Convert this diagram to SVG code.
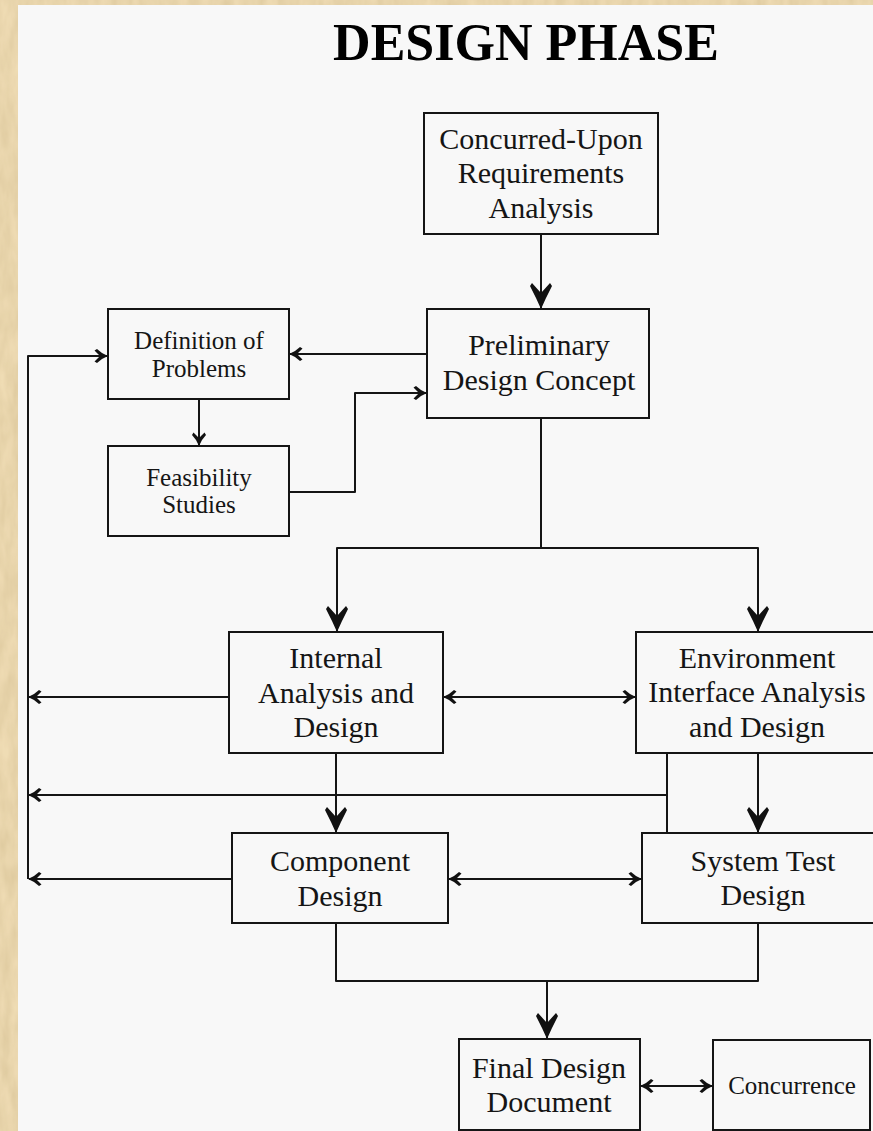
<svg xmlns="http://www.w3.org/2000/svg" width="873" height="1131" viewBox="0 0 873 1131">
  <defs>
    <style>
      .box { fill: none; stroke: #151515; stroke-width: 2; }
      .lbl { font-family: "Liberation Serif", "Times New Roman", serif; font-size: 30px; fill: #151515; text-anchor: middle; }
      .lbl.sm { font-size: 25px; }
      .title { font-family: "Liberation Serif", "Times New Roman", serif; font-size: 52px; font-weight: bold; fill: #000; text-anchor: middle; }
      .wire { fill: none; stroke: #151515; stroke-width: 2; stroke-linejoin: round; }
      .big { marker-end: url(#headBig); }
      .small { marker-end: url(#headSmall); }
      .both { marker-start: url(#headSmallRev); marker-end: url(#headSmall); }
    </style>
    <!-- barbed arrowheads, drawn pointing along +x with the tip at the origin -->
    <marker id="headBig" viewBox="-27 -12 28 24" refX="0" refY="0" markerWidth="28" markerHeight="24" markerUnits="userSpaceOnUse" orient="auto">
      <path d="M1,0 L-10,-5 L-22,-11 L-25,-9 L-15,0 L-25,9 L-22,11 L-10,5 Z" fill="#111"/>
    </marker>
    <marker id="headSmall" viewBox="-14 -8 15 16" refX="0" refY="0" markerWidth="15" markerHeight="16" markerUnits="userSpaceOnUse" orient="auto">
      <path d="M1,0 L-5,-3 L-10,-7 L-12.5,-5.5 L-7,0 L-12.5,5.5 L-10,7 L-5,3 Z" fill="#111"/>
    </marker>
    <marker id="headSmallRev" viewBox="-14 -8 15 16" refX="0" refY="0" markerWidth="15" markerHeight="16" markerUnits="userSpaceOnUse" orient="auto-start-reverse">
      <path d="M1,0 L-5,-3 L-10,-7 L-12.5,-5.5 L-7,0 L-12.5,5.5 L-10,7 L-5,3 Z" fill="#111"/>
    </marker>
    <filter id="paper" x="0" y="0" width="100%" height="100%">
      <feTurbulence type="fractalNoise" baseFrequency="0.09 0.03" numOctaves="3" seed="4" result="n"/>
      <feColorMatrix in="n" type="matrix" values="0 0 0 0 0.55  0 0 0 0 0.42  0 0 0 0 0.2  0 0 0 0.55 -0.1" result="tint"/>
      <feComposite in="tint" in2="SourceGraphic" operator="in" result="spots"/>
      <feMerge><feMergeNode in="SourceGraphic"/><feMergeNode in="spots"/></feMerge>
    </filter>
  </defs>

  <!-- parchment backdrop and page panel -->
  <rect x="0" y="0" width="873" height="1131" fill="#efdcb4" filter="url(#paper)"/>
  <rect x="18" y="5" width="855" height="1126" fill="#f8f8f8"/>

  <text class="title" x="526" y="60">DESIGN PHASE</text>

  <g id="connectors">
    <path class="wire big" d="M541,234 V308"/>
    <path class="wire small" d="M427,354 H290"/>
    <path class="wire small" d="M199,399 V445"/>
    <path class="wire small" d="M289,492 H355 V393 H426"/>
    <path class="wire small" d="M28,879 V356 H107"/>
    <path class="wire" d="M541,418 V548"/>
    <path class="wire big" d="M541,548 H337 V631"/>
    <path class="wire big" d="M541,548 H758 V631"/>
    <path class="wire both" d="M444,697 H635"/>
    <path class="wire small" d="M229,697 H29"/>
    <path class="wire big" d="M336,753 V832"/>
    <path class="wire big" d="M758,753 V832"/>
    <path class="wire" d="M667,753 V833"/>
    <path class="wire small" d="M667,795 H29"/>
    <path class="wire both" d="M449,879 H641"/>
    <path class="wire small" d="M232,879 H29"/>
    <path class="wire" d="M336,923 V981 H758 V923"/>
    <path class="wire big" d="M547,981 V1038"/>
    <path class="wire both" d="M641,1086 H712"/>
  </g>

  <g id="requirements">
    <rect class="box" x="424" y="113" width="234" height="121"/>
    <text class="lbl" x="541" y="149">Concurred-Upon</text>
    <text class="lbl" x="541" y="183">Requirements</text>
    <text class="lbl" x="541" y="218">Analysis</text>
  </g>

  <g id="preliminary">
    <rect class="box" x="427" y="309" width="222" height="109"/>
    <text class="lbl" x="539" y="355">Preliminary</text>
    <text class="lbl" x="539" y="390">Design Concept</text>
  </g>

  <g id="definition">
    <rect class="box" x="108" y="309" width="181" height="90"/>
    <text class="lbl sm" x="199" y="349">Definition of</text>
    <text class="lbl sm" x="199" y="377">Problems</text>
  </g>

  <g id="feasibility">
    <rect class="box" x="108" y="446" width="181" height="90"/>
    <text class="lbl sm" x="199" y="486">Feasibility</text>
    <text class="lbl sm" x="199" y="513">Studies</text>
  </g>

  <g id="internal">
    <rect class="box" x="229" y="632" width="214" height="121"/>
    <text class="lbl" x="336" y="668">Internal</text>
    <text class="lbl" x="336" y="703">Analysis and</text>
    <text class="lbl" x="336" y="737">Design</text>
  </g>

  <g id="environment">
    <rect class="box" x="636" y="632" width="250" height="121"/>
    <text class="lbl" x="757" y="668">Environment</text>
    <text class="lbl" x="757" y="702">Interface Analysis</text>
    <text class="lbl" x="757" y="737">and Design</text>
  </g>

  <g id="component">
    <rect class="box" x="232" y="833" width="216" height="90"/>
    <text class="lbl" x="340" y="871">Component</text>
    <text class="lbl" x="340" y="906">Design</text>
  </g>

  <g id="system-test">
    <rect class="box" x="642" y="833" width="244" height="90"/>
    <text class="lbl" x="763" y="871">System Test</text>
    <text class="lbl" x="763" y="905">Design</text>
  </g>

  <g id="final-design">
    <rect class="box" x="459" y="1039" width="181" height="91"/>
    <text class="lbl" x="549" y="1078">Final Design</text>
    <text class="lbl" x="549" y="1112">Document</text>
  </g>

  <g id="concurrence">
    <rect class="box" x="713" y="1040" width="157" height="90"/>
    <text class="lbl sm" x="792" y="1094">Concurrence</text>
  </g>
</svg>
